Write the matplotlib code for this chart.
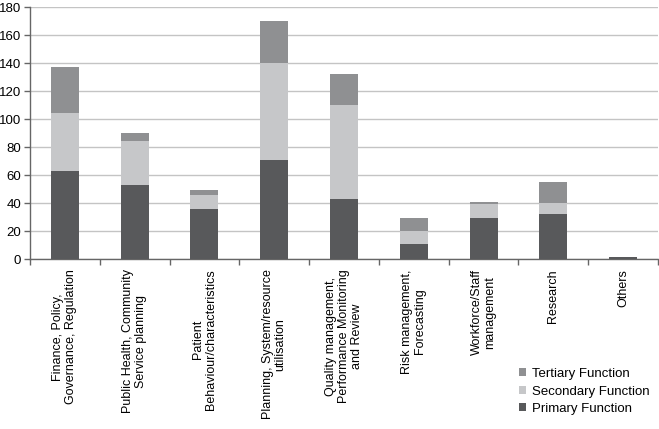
import matplotlib
matplotlib.use('Agg')
import matplotlib.pyplot as plt
import numpy as np

plt.rcParams['font.family'] = ['Liberation Sans', 'DejaVu Sans']
plt.rcParams['font.size'] = 9.5

categorias = ['Finance, Policy,\nGovernance, Regulation',
              'Public Health, Community\nService planning',
              'Patient\nBehaviour/characteristics',
              'Planning, System/resource\nutilisation',
              'Quality management,\nPerformance Monitoring\nand Review',
              'Risk management,\nForecasting',
              'Workforce/Staff\nmanagement',
              'Research',
              'Others']
primaria = [63, 53, 36, 71, 43, 10.5, 29, 32, 1.5]
secundaria = [41, 31, 10, 69, 67, 9.5, 10, 8, 0]
terciaria = [33, 6, 3, 30, 22, 9, 2, 15, 0]

colores = ['#58595b', '#c6c7c9', '#8f9092']

fig = plt.figure(figsize=(6.59, 4.29), dpi=100)
ax = fig.add_axes([30/659, 1-259/429, 628/659, 252/429])

x = np.arange(len(categorias))
ancho = 0.4
base2 = np.array(primaria)
base3 = base2 + np.array(secundaria)
b1 = ax.bar(x, primaria, ancho, color=colores[0], label='Primary Function', zorder=3)
b2 = ax.bar(x, secundaria, ancho, bottom=base2, color=colores[1], label='Secondary Function', zorder=3)
b3 = ax.bar(x, terciaria, ancho, bottom=base3, color=colores[2], label='Tertiary Function', zorder=3)

ax.set_xlim(-0.5, len(categorias) - 0.5)
ax.set_ylim(0, 180)
ax.set_yticks(np.arange(0, 181, 20))
ax.grid(axis='y', color='#c4c4c4', linewidth=1, zorder=0)

# etiquetas centradas en cada categoria, marcas en los limites
ax.set_xticks(x)
ax.set_xticklabels(categorias, rotation=90, ha='center', va='top', multialignment='center',
                   fontsize=9, linespacing=1.1)
ax.set_xticks(np.arange(-0.5, len(categorias), 1), minor=True)
ax.tick_params(axis='x', which='major', length=0, pad=7.5)
ax.tick_params(axis='x', which='minor', length=4, width=1, color='#666666')
ax.tick_params(axis='y', length=4, width=1, color='#666666', pad=2.5)

for s in ['top', 'right']:
    ax.spines[s].set_visible(False)
for s in ['left', 'bottom']:
    ax.spines[s].set_color('#666666')
    ax.spines[s].set_linewidth(1)

fig.legend([b3, b2, b1], ['Tertiary Function', 'Secondary Function', 'Primary Function'],
           loc='upper left', bbox_to_anchor=(519/659, 1-368/429), frameon=False,
           borderpad=0, handlelength=0.55, handleheight=0.55, handletextpad=0.45,
           labelspacing=0.42, borderaxespad=0)

plt.savefig('out.png', dpi=100)
